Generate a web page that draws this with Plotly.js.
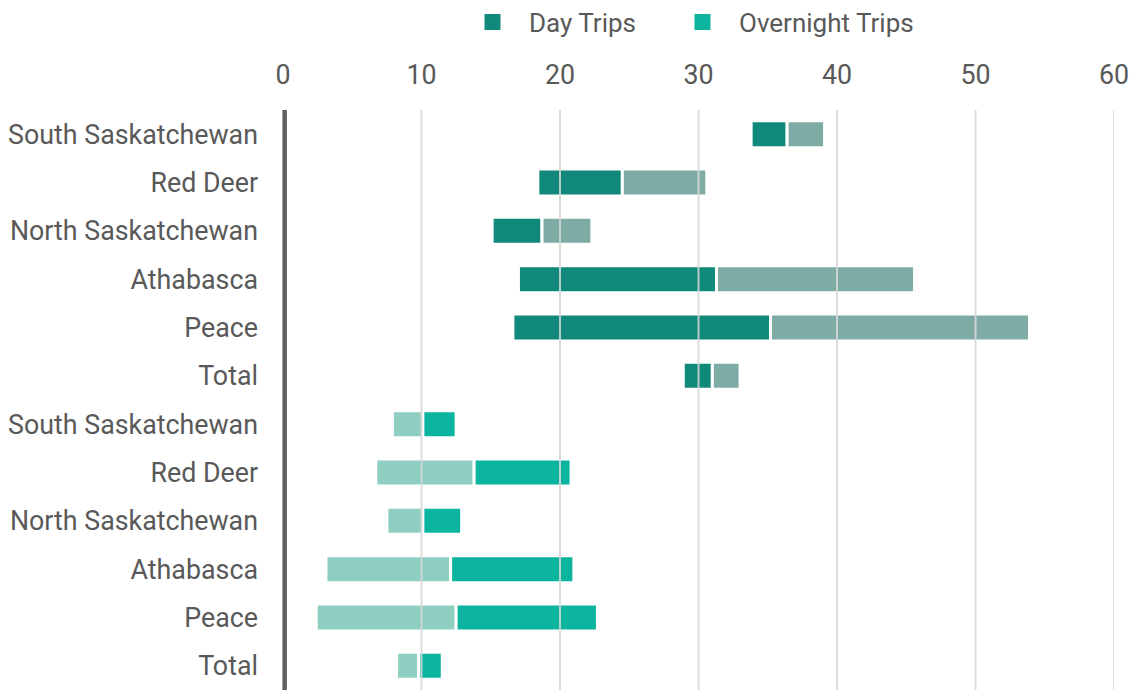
<!DOCTYPE html>
<html>
<head>
<meta charset="utf-8">
<script src="https://cdn.plot.ly/plotly-3.0.1.min.js"></script>
<style>html,body{margin:0;padding:0;background:#fff;}#chart{width:1131px;height:690px;}</style>
</head>
<body>
<div id="chart"></div>
<script>
// Row labels (top to bottom)
const dayCategories = ["South Saskatchewan", "Red Deer", "North Saskatchewan", "Athabasca", "Peace", "Total"];
const overnightCategories = ["South Saskatchewan", "Red Deer", "North Saskatchewan", "Athabasca", "Peace", "Total"];

// Day trips: start, split point, end
const dayStart = [33.8, 18.4, 15.1, 17.0, 16.6, 28.9];
const dayMid   = [36.4, 24.5, 18.7, 31.3, 35.2, 31.0];
const dayEnd   = [39.1, 30.6, 22.3, 45.6, 53.9, 33.0];

// Overnight trips: start, split point, end
const nightStart = [7.9, 6.7, 7.5, 3.1, 2.4, 8.2];
const nightMid   = [10.1, 13.8, 10.1, 12.1, 12.5, 9.8];
const nightEnd   = [12.5, 20.8, 12.9, 21.0, 22.7, 11.5];

const xTicks = [0, 10, 20, 30, 40, 50, 60];

const dayPos = dayCategories.map((_, i) => i);
const nightPos = overnightCategories.map((_, i) => i + dayCategories.length);
const allLabels = dayCategories.concat(overnightCategories);
const allPos = dayPos.concat(nightPos);

const line = {color: '#ffffff', width: 3};
const diff = (a, b) => a.map((v, i) => v - b[i]);

const traces = [
  {type: 'bar', orientation: 'h', y: dayPos, base: dayStart, x: diff(dayMid, dayStart),
   marker: {color: '#10897a', line: line}, showlegend: false, hoverinfo: 'skip'},
  {type: 'bar', orientation: 'h', y: dayPos, base: dayMid, x: diff(dayEnd, dayMid),
   marker: {color: '#7eaca4', line: line}, showlegend: false, hoverinfo: 'skip'},
  {type: 'bar', orientation: 'h', y: nightPos, base: nightStart, x: diff(nightMid, nightStart),
   marker: {color: '#8ecfc2', line: line}, showlegend: false, hoverinfo: 'skip'},
  {type: 'bar', orientation: 'h', y: nightPos, base: nightMid, x: diff(nightEnd, nightMid),
   marker: {color: '#0ab49f', line: line}, showlegend: false, hoverinfo: 'skip'},
  {type: 'scatter', mode: 'markers', x: [null], y: [null], name: 'Day Trips', legend: 'legend',
   marker: {symbol: 'square', size: 20, color: '#10897a'}},
  {type: 'scatter', mode: 'markers', x: [null], y: [null], name: 'Overnight Trips', legend: 'legend2',
   marker: {symbol: 'square', size: 20, color: '#0ab49f'}}
];

const gridShapes = xTicks.filter(v => v > 0).map(v => ({
  type: 'line', xref: 'x', yref: 'paper', x0: v, x1: v, y0: 0, y1: 1,
  line: {color: 'rgba(215,215,215,0.85)', width: 2}, layer: 'above'
}));
gridShapes.push({
  type: 'line', xref: 'paper', yref: 'paper', x0: 0.002, x1: 0.002, y0: 0, y1: 1,
  line: {color: '#5f5f5f', width: 4.5}, layer: 'above'
});

const legendBase = {orientation: 'h', xanchor: 'left', yref: 'container', y: 0.968, yanchor: 'middle',
  font: {size: 26, color: '#595959'}, itemwidth: 63, bgcolor: 'rgba(0,0,0,0)'};

const layout = {
  width: 1131, height: 690,
  margin: {l: 283, r: 17, t: 110, b: 0, autoexpand: false},
  paper_bgcolor: '#ffffff', plot_bgcolor: '#ffffff',
  font: {family: 'Roboto, sans-serif', size: 26.8, color: '#595959'},
  barmode: 'overlay', bargap: 0.44,
  xaxis: {side: 'top', range: [0, 60], tickvals: xTicks, ticktext: xTicks.map(String),
          showgrid: false, zeroline: false, showline: false, ticks: '',
          ticklabelstandoff: 20, tickfont: {size: 26.8, color: '#595959'}, fixedrange: true},
  yaxis: {range: [allPos.length - 0.5, -0.5], tickvals: allPos, ticktext: allLabels,
          showgrid: false, zeroline: false, showline: false, ticks: '',
          ticklabelstandoff: 24, tickfont: {size: 26.8, color: '#595959'}, fixedrange: true},
  legend: Object.assign({}, legendBase, {x: 0.2082}),
  legend2: Object.assign({}, legendBase, {x: 0.4609}),
  shapes: gridShapes,
  showlegend: true
};

Plotly.newPlot('chart', traces, layout, {displayModeBar: false, staticPlot: true});
</script>
</body>
</html>
